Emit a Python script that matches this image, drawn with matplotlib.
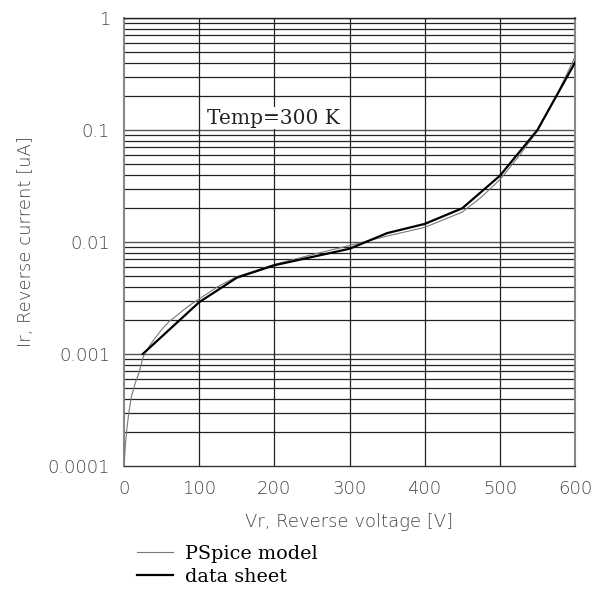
import matplotlib
matplotlib.use("Agg")
import matplotlib.pyplot as plt
from matplotlib.lines import Line2D
import numpy as np

# Data sheet points (thick black)
ds_v = [25, 100, 150, 200, 300, 350, 400, 450, 500, 550, 600]
ds_i = [0.001, 0.0029, 0.0048, 0.0062, 0.0087, 0.012, 0.0145, 0.02, 0.039, 0.1, 0.4]

# PSpice model curve (thin grey)
ps_v = [0, 2, 4, 7, 10, 15, 20, 25, 30, 40, 50, 60, 70, 80, 90, 100, 125, 150, 200, 250, 300, 350, 400, 450, 475, 500, 525, 550, 575, 600]
ps_i = [0.0001, 0.00016, 0.00022, 0.00032, 0.00042, 0.00055, 0.00068, 0.00092, 0.00108, 0.00135, 0.00165, 0.00195, 0.0022, 0.0025, 0.0028, 0.0031, 0.004, 0.0049,
        0.0063, 0.0077, 0.0093, 0.0113, 0.0135, 0.0185, 0.025, 0.036, 0.058, 0.098, 0.2, 0.45]

x_ticks = [0, 100, 200, 300, 400, 500, 600]
y_ticks = [0.0001, 0.001, 0.01, 0.1, 1]
y_labels = ["0.0001", "0.001", "0.01", "0.1", "1"]

fig = plt.figure(figsize=(5.92, 5.90), dpi=100)
ax = fig.add_axes([124/592, 1 - 466/590, (575-124)/592, (466-18)/590])

ax.set_yscale('log')
ax.set_xlim(0, 600)
ax.set_ylim(1e-4, 1)

# grid lines
for dec in [1e-4, 1e-3, 1e-2, 1e-1]:
    for m in range(2, 10):
        ax.axhline(dec*m, color='#222222', lw=0.9, zorder=1)
for v in [0.001, 0.01, 0.1]:
    ax.axhline(v, color='#555555', lw=1.0, zorder=1)
ax.axhline(1, color='#222222', lw=1.0, zorder=1)
for xv in x_ticks[1:-1]:
    ax.axvline(xv, color='#222222', lw=0.9, zorder=1)

ax.plot(ps_v, ps_i, color='#777777', lw=0.8, zorder=3)
ax.plot(ds_v, ds_i, color='black', lw=1.6, zorder=4)

for s in ['left', 'right']:
    ax.spines[s].set_color('#888888')
    ax.spines[s].set_linewidth(1.5)
ax.spines['top'].set_color('#222222')
ax.spines['top'].set_linewidth(1.0)
ax.spines['bottom'].set_color('#333333')
ax.spines['bottom'].set_linewidth(1.0)

tick_font = dict(family='DejaVu Sans', weight='light', size=13, color='#444444')
ax.set_xticks(x_ticks)
ax.set_xticklabels([str(t) for t in x_ticks], **tick_font)
ax.set_yticks(y_ticks)
ax.set_yticklabels(y_labels, **tick_font)
ax.yaxis.set_minor_locator(matplotlib.ticker.NullLocator())
ax.tick_params(axis='both', length=0, pad=10)

ax.set_xlabel("Vr, Reverse voltage [V]", labelpad=11, **tick_font)
ax.set_ylabel("Ir, Reverse current [uA]", labelpad=9, **tick_font)

ax.text(0.185, 0.776, "Temp=300 K", transform=ax.transAxes, family='DejaVu Serif', size=14.5,
        color='#222222', va='center', ha='left', zorder=5,
        bbox=dict(facecolor='white', edgecolor='none', pad=1))

handles = [Line2D([0], [0], color='#777777', lw=0.8),
           Line2D([0], [0], color='black', lw=1.6)]
fig.legend(handles, ["PSpice model", "data sheet"], loc='upper left',
           bbox_to_anchor=(137/592, 1 - 545/590), frameon=False,
           prop=dict(family='DejaVu Serif', size=13.8), handlelength=1.9,
           handletextpad=0.6, labelspacing=0.25, borderaxespad=0, borderpad=0)

fig.savefig("out.png", dpi=100, facecolor='white')
